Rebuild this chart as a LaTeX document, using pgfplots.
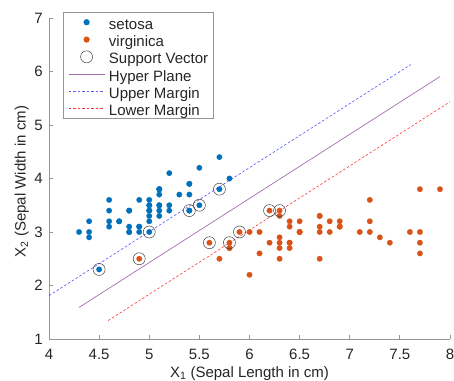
\documentclass[border=0pt]{standalone}
\usepackage{fontspec}
\setmainfont{Liberation Sans}
\usepackage{pgfplots}
\pgfplotsset{compat=1.18}
\definecolor{cset}{RGB}{0,114,189}
\definecolor{cvir}{RGB}{217,83,25}
\definecolor{chyp}{RGB}{126,47,142}
\definecolor{cblu}{RGB}{40,40,255}
\definecolor{cred}{RGB}{255,0,0}
\definecolor{txt}{RGB}{38,38,38}
\definecolor{axc}{RGB}{150,150,150}
\newcommand{\fs}{\fontsize{15bp}{18bp}\selectfont}
\pgfplotsset{lineleg/.style={legend image code/.code={\draw[#1] (0bp,0bp) -- (36bp,0bp);}}}
\begin{document}
\begin{tikzpicture}
\path[use as bounding box] (-49bp,-42bp) rectangle (405bp,339bp);
\begin{axis}[
  at={(0,0)}, anchor=south west,
  scale only axis, width=401bp, height=321bp,
  xmin=4, xmax=8, ymin=1, ymax=7,
  xtick={4,4.5,5,5.5,6,6.5,7,7.5,8}, ytick={1,2,3,4,5,6,7},
  axis x line*=bottom, axis y line*=left,
  axis line style={draw=axc, line width=0.8bp, -},
  tick style={draw=axc, line width=0.8bp},
  tick align=inside, major tick length=4bp,
  /pgf/number format/assume math mode=true,
  xticklabel style={font=\fs, text=txt, inner sep=0pt, anchor=north, yshift=-10bp},
  yticklabel style={font=\fs, text=txt, inner sep=0pt, anchor=east, xshift=-6bp},
  xlabel={X\textsubscript{1} (Sepal Length in cm)},
  ylabel={X\textsubscript{2} (Sepal Width in cm)},
  every axis x label/.style={at={(axis description cs:0.5,0)}, anchor=north, inner sep=0pt, yshift=-27bp, font=\fs, text=txt},
  every axis y label/.style={at={(axis description cs:0,0.5)}, anchor=south, inner sep=0pt, xshift=-20bp, yshift=-3bp, rotate=90, font=\fs, text=txt},
  legend style={at={(0.0349,1.0187)}, anchor=north west, draw=axc, line width=0.5bp, font=\fs, text=txt,
    inner xsep=5bp, inner ysep=3bp, row sep=3.3bp, column sep=4bp,
    nodes={inner sep=0pt, text height=14bp, text depth=0bp}},
  legend cell align=left,
]
\addplot[only marks, mark=*, mark size=2.8bp, mark options={draw=cset, fill=cset, line width=0.1pt},
  legend image code/.code={\fill[cset] (18bp,0bp) circle (2.8bp);}] table {
x y
5.1 3.5
4.9 3.0
4.7 3.2
4.6 3.1
5.0 3.6
5.4 3.9
4.6 3.4
5.0 3.4
4.4 2.9
4.9 3.1
5.4 3.7
4.8 3.4
4.8 3.0
4.3 3.0
5.8 4.0
5.7 4.4
5.4 3.9
5.1 3.5
5.7 3.8
5.1 3.8
5.4 3.4
5.1 3.7
4.6 3.6
5.1 3.3
4.8 3.4
5.0 3.0
5.0 3.4
5.2 3.5
5.2 3.4
4.7 3.2
4.8 3.1
5.4 3.4
5.2 4.1
5.5 4.2
4.9 3.1
5.0 3.2
5.5 3.5
4.9 3.6
4.4 3.0
5.1 3.4
5.0 3.5
4.5 2.3
4.4 3.2
5.0 3.5
5.1 3.8
4.8 3.0
5.1 3.8
4.6 3.2
5.3 3.7
5.0 3.3
};
\addlegendentry{setosa}
\addplot[only marks, mark=*, mark size=2.8bp, mark options={draw=cvir, fill=cvir, line width=0.1pt},
  legend image code/.code={\fill[cvir] (18bp,0bp) circle (2.8bp);}] table {
x y
6.3 3.3
5.8 2.7
7.1 3.0
6.3 2.9
6.5 3.0
7.6 3.0
4.9 2.5
7.3 2.9
6.7 2.5
7.2 3.6
6.5 3.2
6.4 2.7
6.8 3.0
5.7 2.5
5.8 2.8
6.4 3.2
6.5 3.0
7.7 3.8
7.7 2.6
6.0 2.2
6.9 3.2
5.6 2.8
7.7 2.8
6.3 2.7
6.7 3.3
7.2 3.2
6.2 2.8
6.1 3.0
6.4 2.8
7.2 3.0
7.4 2.8
7.9 3.8
6.4 2.8
6.3 2.8
6.1 2.6
7.7 3.0
6.3 3.4
6.4 3.1
6.0 3.0
6.9 3.1
6.7 3.1
6.9 3.1
5.8 2.7
6.8 3.2
6.7 3.3
6.7 3.0
6.3 2.5
6.5 3.0
6.2 3.4
5.9 3.0
};
\addlegendentry{virginica}
\addplot[only marks, mark=o, mark size=6bp, mark options={draw=black!75, line width=0.5bp},
  legend image code/.code={\draw[black!75, line width=0.5bp] (18bp,0bp) circle (6bp);}] table {
x y
4.5 2.3
4.9 2.5
5.0 3.0
5.4 3.4
5.5 3.5
5.6 2.8
5.7 3.8
5.8 2.8
5.9 3.0
6.2 3.4
6.3 3.4
};
\addlegendentry{Support Vector}
\addplot[draw=chyp, draw opacity=0.7, line width=0.7bp, lineleg] table {
x y
4.3 1.59
7.9 5.905
};
\addlegendentry{Hyper Plane}
\addplot[color=cblu, draw opacity=0.8, line width=0.6bp, dash pattern=on 2.5bp off 2bp,
  legend image code/.code={\draw[draw=cblu, draw opacity=0.75, line width=0.7bp, dash pattern=on 2.5bp off 2bp] (0bp,0bp) -- (36bp,0bp);}] table {
x y
4.0 1.81
7.61 6.13
};
\addlegendentry{Upper Margin}
\addplot[color=cred, draw opacity=0.8, line width=0.6bp, dash pattern=on 2.5bp off 2bp, lineleg] table {
x y
4.59 1.345
8.2 5.675
};
\addlegendentry{Lower Margin}
\end{axis}
\end{tikzpicture}
\end{document}
